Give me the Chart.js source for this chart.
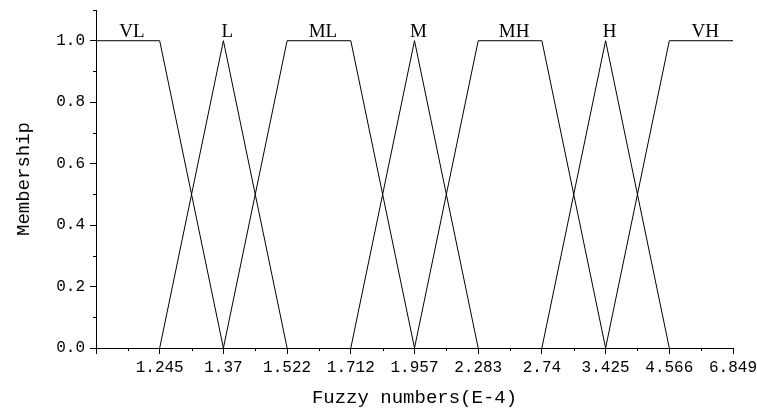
<!DOCTYPE html>
<html>
<head>
<meta charset="utf-8">
<script src="https://cdn.jsdelivr.net/npm/chart.js@4"></script>
<style>
  html, body { margin: 0; background: #fff; }
  #wrap { width: 757px; height: 412px; }
</style>
</head>
<body>
<div id="wrap"><canvas id="membershipChart"></canvas></div>
<script>
// Tick labels on the x axis (equally spaced, index 0 has no label)
const xTickLabels = ['', '1.245', '1.37', '1.522', '1.712', '1.957', '2.283', '2.74', '3.425', '4.566', '6.849'];
const yTicks = [0, 0.2, 0.4, 0.6, 0.8, 1.0];
const yMinorTicks = [0.1, 0.3, 0.5, 0.7, 0.9, 1.1];

// Fuzzy sets: positions are tick indices, values are memberships
const setNames = ['VL', 'L', 'ML', 'M', 'MH', 'H', 'VH'];
const vlX = [0, 1, 2];       const vlY = [1, 1, 0];
const lX  = [1, 2, 3];       const lY  = [0, 1, 0];
const mlX = [2, 3, 4, 5];    const mlY = [0, 1, 1, 0];
const mX  = [4, 5, 6];       const mY  = [0, 1, 0];
const mhX = [5, 6, 7, 8];    const mhY = [0, 1, 1, 0];
const hX  = [7, 8, 9];       const hY  = [0, 1, 0];
const vhX = [8, 9, 10];      const vhY = [0, 1, 1];

const setXs = [vlX, lX, mlX, mX, mhX, hX, vhX];
const setYs = [vlY, lY, mlY, mY, mhY, hY, vhY];

const monoFont = '"Liberation Mono", "DejaVu Sans Mono", monospace';

// Minor ticks and set names on top of the peaks
const extrasPlugin = {
  id: 'extras',
  afterDraw(chart) {
    const ctx = chart.ctx;
    const xs = chart.scales.x;
    const ys = chart.scales.y;
    ctx.save();
    ctx.strokeStyle = '#000';
    ctx.lineWidth = 1;
    ctx.beginPath();
    for (let i = 0; i < xTickLabels.length - 1; i++) {
      const px = Math.round(xs.getPixelForValue(i + 0.5)) + 0.5;
      ctx.moveTo(px, ys.bottom);
      ctx.lineTo(px, ys.bottom + 3);
    }
    yMinorTicks.forEach(v => {
      const py = Math.round(ys.getPixelForValue(v)) + 0.5;
      ctx.moveTo(xs.left, py);
      ctx.lineTo(xs.left - 3, py);
    });
    ctx.stroke();

    ctx.fillStyle = '#000';
    ctx.font = '19px "Liberation Serif", "Times New Roman", serif';
    ctx.textAlign = 'center';
    ctx.textBaseline = 'alphabetic';
    setNames.forEach((name, k) => {
      const tops = setXs[k].filter((x, j) => setYs[k][j] === 1);
      const cx = tops.reduce((a, b) => a + b, 0) / tops.length;
      ctx.fillText(name, xs.getPixelForValue(cx) + 4, ys.getPixelForValue(1) - 4);
    });
    ctx.restore();
  }
};

const datasets = setNames.map((name, k) => ({
  label: name,
  data: setXs[k].map((x, j) => ({ x: x, y: setYs[k][j] })),
  borderColor: '#000',
  borderWidth: 1,
  pointRadius: 0,
  tension: 0,
  fill: false
}));

const ctx = document.getElementById('membershipChart').getContext('2d');
new Chart(ctx, {
  type: 'line',
  data: { datasets: datasets },
  options: {
    responsive: true,
    maintainAspectRatio: false,
    animation: false,
    layout: { padding: { top: 10, right: 24, left: 0, bottom: 0 } },
    plugins: {
      legend: { display: false },
      tooltip: { enabled: false }
    },
    scales: {
      x: {
        type: 'linear',
        min: 0,
        max: xTickLabels.length - 1,
        afterBuildTicks: scale => {
          scale.ticks = xTickLabels.map((_, i) => ({ value: i }));
        },
        afterFit: scale => {
          scale.height = 64;
          scale.paddingLeft = 0;
          scale.paddingRight = 0;
        },
        ticks: {
          autoSkip: false,
          maxRotation: 0,
          color: '#000',
          padding: 4,
          font: { family: monoFont, size: 16 },
          callback: v => xTickLabels[v]
        },
        grid: { display: true, drawOnChartArea: false, drawTicks: true, tickLength: 6, color: '#000' },
        border: { color: '#000', width: 1 },
        title: {
          display: true,
          text: 'Fuzzy numbers(E-4)',
          color: '#000',
          font: { family: monoFont, size: 19 },
          padding: { top: 0, bottom: 3 }
        }
      },
      y: {
        min: 0,
        max: 1.1,
        afterBuildTicks: scale => {
          scale.ticks = yTicks.map(v => ({ value: v }));
        },
        afterFit: scale => {
          scale.width = 96;
          scale.paddingTop = 0;
          scale.paddingBottom = 0;
        },
        ticks: {
          color: '#000',
          padding: 5,
          font: { family: monoFont, size: 16 },
          callback: v => v.toFixed(1)
        },
        grid: { display: true, drawOnChartArea: false, drawTicks: true, tickLength: 6, color: '#000' },
        border: { color: '#000', width: 1 },
        title: {
          display: true,
          text: 'Membership',
          color: '#000',
          font: { family: monoFont, size: 19 },
          padding: { top: 13, bottom: 0 }
        }
      }
    }
  },
  plugins: [extrasPlugin]
});
</script>
</body>
</html>
